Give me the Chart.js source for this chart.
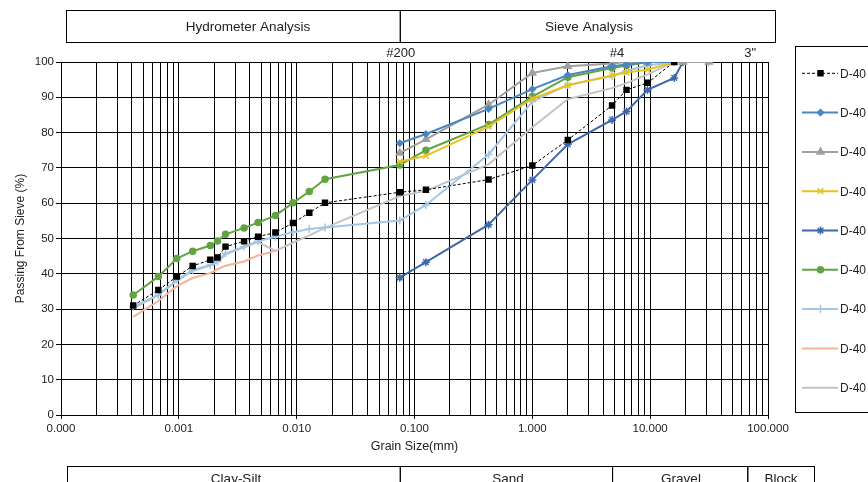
<!DOCTYPE html>
<html>
<head>
<meta charset="utf-8">
<script src="https://cdn.jsdelivr.net/npm/chart.js@4.4.1/dist/chart.umd.min.js"></script>
<style>
  html, body { margin: 0; padding: 0; background: #fff; }
  #grafico { display: block; }
</style>
</head>
<body>
<canvas id="grafico" width="868" height="482"></canvas>
<script>
// tamanhos de grao (mm)
const hydroSizes = [0.00041, 0.00067, 0.00096, 0.00131, 0.00185, 0.00213, 0.00249, 0.00358, 0.0047, 0.0066, 0.0093, 0.0128, 0.0174];
const sieveSizes = [0.075, 0.125, 0.425, 1, 2, 4.75, 6.3, 9.5, 16, 19, 31.5];

const seriesNames = ['D-40', 'D-40', 'D-40', 'D-40', 'D-40', 'D-40', 'D-40', 'D-40', 'D-40'];

// % passante - hidrometria
const hydroD1 = [31, 35.4, 39.2, 42.2, 44, 44.6, 47.7, 49.2, 50.5, 51.7, 54.4, 57.3, 60.1];
const hydroD6 = [34, 39.2, 44.3, 46.4, 48, 49.3, 51.2, 53, 54.5, 56.5, 60.1, 63.3, 66.8];
const hydroD7 = [30.6, 34, 38.3, 41, 42.5, 43.5, 45.8, 47.7, 49.2, 50.5, 51.8, 52.7, 53.1];
const hydroD8 = [27.8, 32.3, 36.5, 38.8, 40.2, 41.3, 42.3, 43.5, 45.2, 46.5];
const hydroD9 = [30.2, 34, 38, 40.8, 42.3, 43.3, 45.5, 47.5, 49, 46.5, 48.8, 50.9, 53];

// % passante - peneiramento (null = sem leitura)
const sieveD1 = [63.1, 63.8, 66.7, 70.7, 77.9, 87.7, 92.1, 94.1, 100, null, null];
const sieveD2 = [77, 79.6, 86.7, 92.3, 96.3, 98.8, 99.3, 100, 100, null, null];
const sieveD3 = [74.2, 78.1, 87.9, 96.9, 98.8, 99.6, 100, 100, 100, 100, 100];
const sieveD4 = [71.8, 73.4, 81.7, 89.6, 93.4, 96.2, 97, 97.8, 100, 100, null];
const sieveD5 = [38.9, 43.3, 53.9, 66.6, 76.7, 83.6, 86, 92.1, 95.5, 100, null];
const sieveD6 = [70.8, 75, 82.3, 90.2, 95.7, 98.3, 99, 100, null, null, null];
const sieveD7 = [55.1, 59.5, 73.8, 88.8, 93.5, 96, 97.5, 99, 100, 100, 100];
const sieveD9 = [62, 63.5, 71, 81.5, 89.5, 92.6, 94, 96.5, 100, null, null];

function pontos(sizes, values) {
    const out = [];
    values.forEach((v, i) => { if (v !== null) out.push({ x: sizes[i], y: v }); });
    return out;
}

const d1 = pontos(hydroSizes, hydroD1).concat(pontos(sieveSizes, sieveD1));
const d2 = pontos(sieveSizes, sieveD2);
const d3 = pontos(sieveSizes, sieveD3);
const d4 = pontos(sieveSizes, sieveD4);
const d5 = pontos(sieveSizes, sieveD5);
const d6 = pontos(hydroSizes, hydroD6).concat(pontos(sieveSizes, sieveD6));
const d7 = pontos(hydroSizes, hydroD7).concat(pontos(sieveSizes, sieveD7));
const d8 = pontos(hydroSizes, hydroD8);
const d9 = pontos(hydroSizes, hydroD9).concat(pontos(sieveSizes, sieveD9));

const estilos = [
    { color: '#000000', width: 1, dash: [3, 2], point: 'rect', r: 3.5 },
    { color: '#4a86c0', width: 2, dash: [], point: 'rectRot', r: 3 },
    { color: '#a0a0a0', width: 2, dash: [], point: 'triangle', r: 4 },
    { color: '#e8c21e', width: 2, dash: [], point: 'crossRot', r: 4 },
    { color: '#3f68ab', width: 2, dash: [], point: 'star', r: 4 },
    { color: '#62a444', width: 2, dash: [], point: 'circle', r: 3 },
    { color: '#a4c6e6', width: 2, dash: [], point: 'cross', r: 4 },
    { color: '#f3b497', width: 2, dash: [], point: false, r: 0 },
    { color: '#c3c3c3', width: 2, dash: [], point: false, r: 0 }
];
const todos = [d1, d2, d3, d4, d5, d6, d7, d8, d9];

const datasets = todos.map((d, i) => ({
    label: seriesNames[i],
    data: d,
    borderColor: estilos[i].color,
    backgroundColor: estilos[i].color,
    borderWidth: estilos[i].width,
    borderDash: estilos[i].dash,
    pointStyle: estilos[i].point,
    pointRadius: estilos[i].r,
    pointBorderWidth: 1.5,
    pointBackgroundColor: estilos[i].color,
    pointBorderColor: estilos[i].color,
    tension: 0,
    fill: false
}));

const fonte = 'Liberation Sans, Arial, sans-serif';

function caixa(ctx, x1, y1, x2, y2, texto, cx, size) {
    ctx.strokeStyle = '#000';
    ctx.lineWidth = 1;
    ctx.strokeRect(x1 + 0.5, y1 + 0.5, x2 - x1, y2 - y1);
    ctx.fillStyle = '#222';
    ctx.font = size + 'px ' + fonte;
    ctx.textAlign = 'center';
    ctx.textBaseline = 'middle';
    ctx.fillText(texto, cx, (y1 + y2) / 2 + 1);
}

const moldura = {
    id: 'moldura',
    afterDraw(chart) {
        const ctx = chart.ctx;
        const x = chart.scales.x;
        const p200 = x.getPixelForValue(0.075);
        const p4 = x.getPixelForValue(4.75);
        const p3in = x.getPixelForValue(75);
        ctx.save();
        // caixas de cima
        caixa(ctx, 66, 10, p200, 42, 'Hydrometer Analysis', 248, 13.5);
        caixa(ctx, p200, 10, 775, 42, 'Sieve Analysis', 589, 13.5);
        // caixas de baixo
        caixa(ctx, 67, 466, p200, 490, 'Clay-Silt', 236, 13.5);
        caixa(ctx, p200, 466, p4, 490, 'Sand', 508, 13.5);
        caixa(ctx, p4, 466, p3in - 6, 490, 'Gravel', 681, 13.5);
        caixa(ctx, p3in - 6, 466, 814, 490, 'Block', 781, 13.5);
        // peneiras
        ctx.fillStyle = '#222';
        ctx.font = '13px ' + fonte;
        ctx.textAlign = 'center';
        ctx.textBaseline = 'middle';
        ctx.fillText('#200', p200 + 1, 53);
        ctx.fillText('#4', p4 + 5, 53);
        ctx.fillText('3"', p3in - 3, 53);
        // legenda
        ctx.strokeStyle = '#000';
        ctx.lineWidth = 1;
        ctx.strokeRect(795.5, 46.5, 100, 366);
        chart.data.datasets.forEach((ds, i) => {
            const y = 73.3 + i * 39.3;
            ctx.save();
            ctx.strokeStyle = ds.borderColor;
            ctx.lineWidth = ds.borderWidth;
            ctx.setLineDash(ds.borderDash);
            ctx.beginPath();
            ctx.moveTo(802, y);
            ctx.lineTo(838, y);
            ctx.stroke();
            ctx.setLineDash([]);
            if (ds.pointStyle) {
                ctx.fillStyle = ds.borderColor;
                ctx.lineWidth = 1.5;
                Chart.helpers.drawPoint(ctx, { pointStyle: ds.pointStyle, radius: ds.pointRadius, rotation: 0, borderWidth: 1.5 }, 820.5, y);
            }
            ctx.restore();
            ctx.fillStyle = '#222';
            ctx.font = '12px ' + fonte;
            ctx.textAlign = 'left';
            ctx.textBaseline = 'middle';
            ctx.fillText(ds.label, 840, y + 1);
        });
        ctx.restore();
    }
};

const decadas = [0.0001, 0.001, 0.01, 0.1, 1, 10, 100];
const ehDecada = v => decadas.some(d => Math.abs(v - d) / d < 1e-6);

new Chart(document.getElementById('grafico'), {
    type: 'line',
    data: { datasets: datasets },
    options: {
        responsive: false,
        animation: false,
        devicePixelRatio: 1,
        layout: { padding: { top: 62, right: 100, bottom: 17, left: 0 } },
        plugins: {
            legend: { display: false },
            tooltip: { enabled: false }
        },
        scales: {
            x: {
                type: 'logarithmic',
                min: 0.0001,
                max: 100,
                afterBuildTicks(scale) {
                    const t = [];
                    for (let e = -4; e <= 1; e++) {
                        for (let m = 1; m <= 9; m++) t.push({ value: m * Math.pow(10, e) });
                    }
                    t.push({ value: 100 });
                    scale.ticks = t;
                },
                afterFit(scale) { scale.height = 50; },
                grid: {
                    color: '#000',
                    lineWidth: 1,
                    tickLength: 4,
                    tickColor: c => ehDecada(c.tick.value) ? '#000' : 'rgba(0,0,0,0)'
                },
                border: { color: '#000' },
                ticks: {
                    autoSkip: false,
                    maxRotation: 0,
                    padding: 3,
                    color: '#222',
                    font: { family: fonte, size: 11.5 },
                    callback: v => ehDecada(v) ? v.toFixed(3) : ''
                },
                title: {
                    display: true,
                    text: 'Grain Size(mm)',
                    color: '#222',
                    font: { family: fonte, size: 12.5 },
                    padding: { top: 0, bottom: 11 }
                }
            },
            y: {
                min: 0,
                max: 100,
                afterFit(scale) { scale.width = 61; },
                grid: { color: '#000', lineWidth: 1, tickLength: 5, tickColor: '#000' },
                border: { color: '#000' },
                ticks: {
                    stepSize: 10,
                    padding: 2,
                    color: '#222',
                    font: { family: fonte, size: 11.5 }
                },
                title: {
                    display: true,
                    text: 'Passing From Sieve (%)',
                    color: '#222',
                    font: { family: fonte, size: 12 },
                    padding: { top: 13, bottom: 0 }
                }
            }
        }
    },
    plugins: [moldura]
});
</script>
</body>
</html>
